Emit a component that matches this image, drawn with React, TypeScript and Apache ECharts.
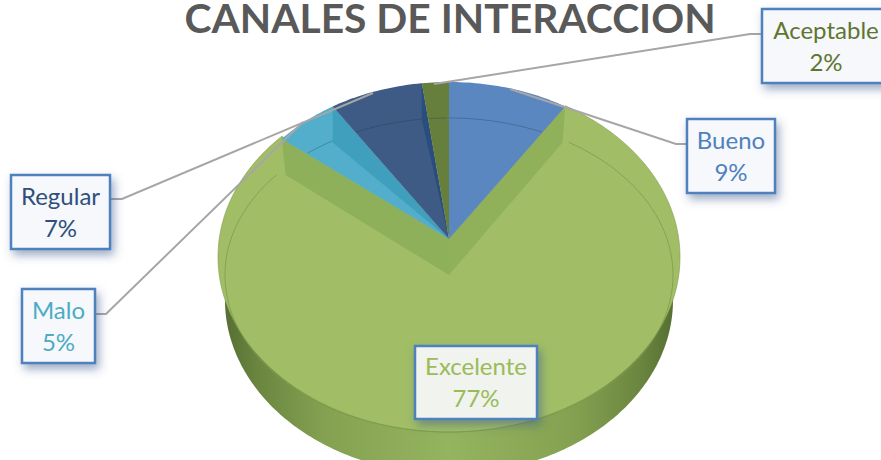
import React, { useEffect, useRef } from "react";
import * as echarts from "echarts";

const TITLE = "CANALES DE INTERACCION";
const CATEGORIES = ["Bueno", "Excelente", "Malo", "Regular", "Aceptable"];
const VALUES = [9, 77, 5, 7, 2];

const SLICE_COLORS: Record<string, string> = {
  Bueno: "#5b87c0", Excelente: "#a1be66", Malo: "#52aecb", Regular: "#3d5b84", Aceptable: "#667f3d",
};
const WALL_COLORS: Record<string, string | null> = {
  Bueno: null, Excelente: null, Malo: "#409fbd", Regular: "#2b4d7e", Aceptable: null,
};
const TEXT_COLORS: Record<string, string> = {
  Bueno: "#4f81bd", Excelente: "#9bbb59", Malo: "#4bacc6", Regular: "#2f4f7c", Aceptable: "#5f7530",
};
const BOXES: Record<string, number[]> = {
  Bueno: [687, 119, 88, 74], Excelente: [415, 346, 122, 73], Malo: [22, 289, 73, 74],
  Regular: [11, 175, 99, 74], Aceptable: [762, 9, 128, 74],
};
const LEADERS: Record<string, number[][]> = {
  Bueno: [[687, 144], [676, 144], [510, 89]],
  Malo: [[95, 314], [106, 314], [303, 122]],
  Regular: [[110, 199], [122, 199], [373, 93]],
  Aceptable: [[762, 34], [750, 34], [434, 84]],
};

const CX = 449, APEX_Y = 239, LOW_Y = 275, RX = 217, RX_LOW = 212, RY = 157, DEG = Math.PI / 180;
const FACE = { cy: 257, rx: 231, ry: 175 };
const SIDE = { cy: 300, rx: 224, ry: 174 };
const INNER = { cy: 275, rx: 224, ry: 157 };

const total = VALUES.reduce((a, b) => a + b, 0);
const spans = (() => {
  let acc = 0;
  return VALUES.map((v) => {
    const a0 = (acc / total) * 360;
    acc += v;
    return [a0, (acc / total) * 360];
  });
})();
const pt = (e: { cy: number; rx: number; ry: number }, deg: number) => [
  CX + e.rx * Math.sin(deg * DEG),
  e.cy - e.ry * Math.cos(deg * DEG),
];
const wedgePt = (deg: number, cy = APEX_Y, rx = RX) => [CX + rx * Math.sin(deg * DEG), cy - RY * Math.cos(deg * DEG)];
const range = (a: number, b: number, step = 1) => {
  const out: number[] = [];
  for (let d = a; d < b; d += step) out.push(d);
  out.push(b);
  return out;
};
const rimDeg = (deg: number) => {
  const s = Math.asin((RX * Math.sin(deg * DEG)) / FACE.rx) / DEG;
  return deg > 180 ? 360 + s : s;
};
const inWedge = (p: number[], a0: number, a1: number) => {
  let a = Math.atan2((p[0] - CX) / RX, (APEX_Y - p[1]) / RY) / DEG;
  if (a < 0) a += 360;
  return a >= a0 && a <= a1;
};
const hGrad = (stops: [number, string][]) => ({
  type: "linear", x: 0, y: 0, x2: 1, y2: 0,
  colorStops: stops.map(([offset, color]) => ({ offset, color })),
});

const drawOrder = [1, 0, 2, 3, 4];

export default function App() {
  const ref = useRef<HTMLDivElement>(null);
  useEffect(() => {
    document.body.style.margin = "0";
    const chart = echarts.init(ref.current!, undefined, { renderer: "svg" });

    const renderItem = (params: any) => {
      const idx = drawOrder[params.dataIndex];
      const name = CATEGORIES[idx];
      const [a0, a1] = spans[idx];
      const children: any[] = [];
      if (name === "Excelente") {
        const side = range(90, 270).map((d) => pt(SIDE, d));
        children.push({
          type: "polygon", shape: { points: side },
          style: {
            fill: hGrad([[0, "#566f33"], [0.07, "#6a853f"], [0.22, "#84a151"], [0.5, "#95b45f"], [0.78, "#84a151"], [0.93, "#6a853f"], [1, "#566f33"]]),
          },
        });
        const rim = range(rimDeg(a0), rimDeg(a1)).map((d) => pt(FACE, d));
        children.push({
          type: "polygon", shape: { points: [...rim, [CX, APEX_Y]] },
          style: { fill: SLICE_COLORS[name], stroke: "#7f9b4e", lineWidth: 0.6 },
        });
        const r0 = wedgePt(a0), r1 = wedgePt(a1);
        const l0 = wedgePt(a0, LOW_Y, RX_LOW), l1 = wedgePt(a1, LOW_Y, RX_LOW);
        children.push({
          type: "polygon",
          shape: { points: [[CX, APEX_Y], r0, l0, [CX, LOW_Y]] },
          style: { fill: "#90b15a" },
        });
        children.push({
          type: "polygon",
          shape: { points: [[CX, APEX_Y], r1, l1, [CX, LOW_Y]] },
          style: { fill: "#8eb05a" },
        });
        children.push({
          type: "polyline",
          shape: { points: range(a0, a1).map((d) => pt(INNER, d)) },
          style: { stroke: "#7d9a4c", lineWidth: 0.8, fill: "none" },
        });
      } else {
        const pts = range(a0, a1).map((d) => wedgePt(d));
        children.push({
          type: "polygon",
          shape: { points: [[CX, APEX_Y], ...pts] },
          style: { fill: SLICE_COLORS[name] },
        });
        const arc: number[][] = [];
        for (let d = -60; d <= 60; d += 0.5) {
          const p = pt(INNER, d);
          if (inWedge(p, a0, a1)) arc.push(p);
        }
        if (arc.length > 1) {
          children.push({
            type: "polyline", shape: { points: arc },
            style: { stroke: "rgba(30,50,80,0.45)", lineWidth: 0.7, fill: "none" },
          });
        }
        const wall = WALL_COLORS[name];
        if (wall) {
          const p = wedgePt(a1);
          children.push({
            type: "polygon",
            shape: { points: [p, [p[0], p[1] + 36], [CX, APEX_Y]] },
            style: { fill: wall },
          });
        }
      }
      return { type: "group", children };
    };

    const labelEls: any[] = [
      {
        type: "text", z: 30, x: 450, y: 35, scaleX: 0.995,
        style: {
          text: TITLE, font: "bold 41px Lato, sans-serif", fill: "#595959",
          align: "center", verticalAlign: "bottom", lineHeight: 36,
        },
      },
    ];
    CATEGORIES.forEach((name, i) => {
      const leader = LEADERS[name];
      if (leader) {
        labelEls.push({
          type: "polyline", z: 20, shape: { points: leader },
          style: { stroke: "#a6a6a6", lineWidth: 2, fill: "none" },
        });
      }
      const [x, y, w, h] = BOXES[name];
      labelEls.push({
        type: "rect", z: 21, shape: { x, y, width: w, height: h },
        style: {
          fill: name === "Excelente" ? "#f0f3ee" : "#f6f8fb",
          stroke: "#4f81bd", lineWidth: 2.5,
          shadowBlur: 10, shadowOffsetX: 3, shadowOffsetY: 5, shadowColor: "rgba(60,90,140,0.5)",
        },
      });
      labelEls.push({
        type: "text", z: 22, x: x + w / 2, y: y + h / 2 - 1,
        style: {
          text: `${name}\n${VALUES[i]}%`,
          font: "24px Lato, sans-serif",
          lineHeight: 32,
          fill: TEXT_COLORS[name],
          align: "center",
          verticalAlign: "middle",
        },
      });
    });

    chart.setOption({
      animation: false,
      series: [
        {
          type: "custom", coordinateSystem: "none", silent: true, clip: false,
          renderItem,
          data: drawOrder.map((i) => ({ name: CATEGORIES[i], value: VALUES[i] })),
        },
      ],
      graphic: { elements: labelEls },
    });
    return () => chart.dispose();
  }, []);
  return <div ref={ref} style={{ width: 881, height: 460, overflow: "hidden" }} />;
}
